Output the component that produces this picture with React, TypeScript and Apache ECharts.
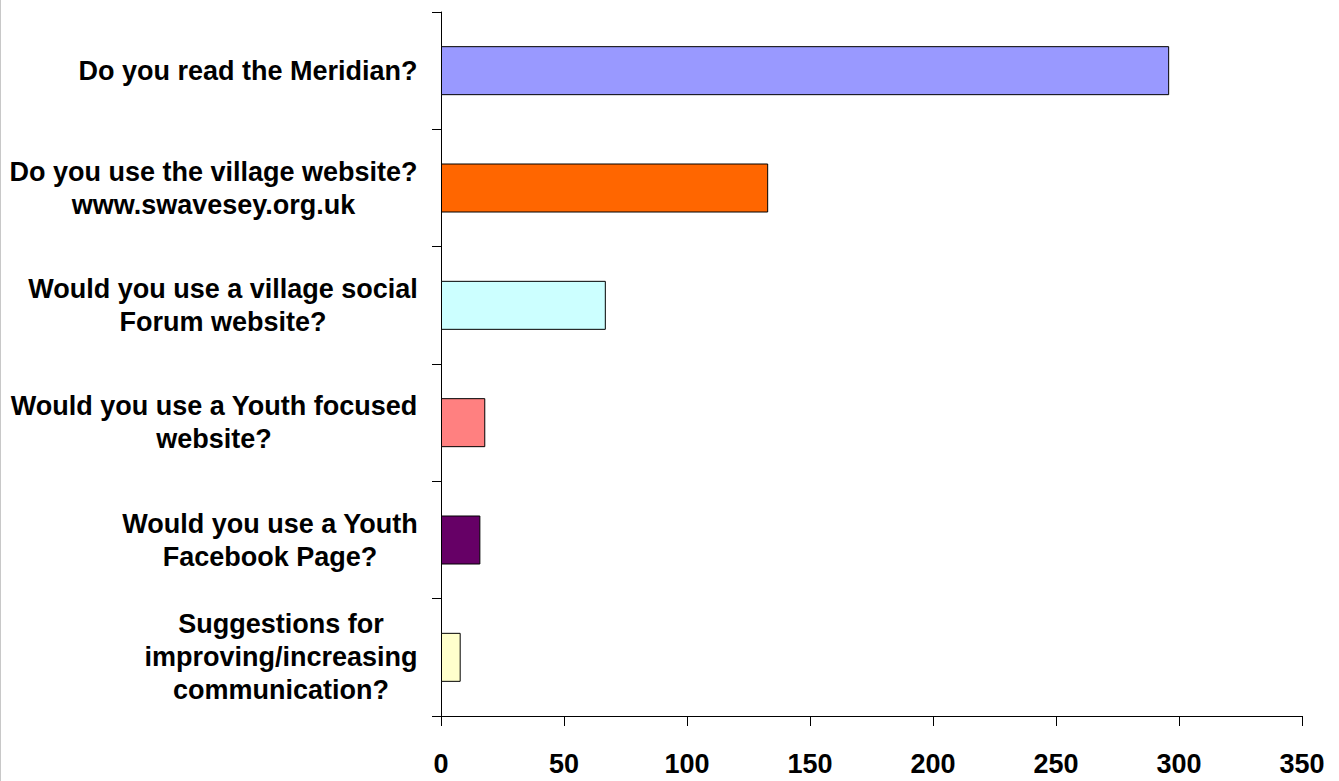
import React, { useEffect, useRef } from "react";
import * as echarts from "echarts";

const categories: string[] = [
  "Do you read the Meridian?",
  "Do you use the village website?\nwww.swavesey.org.uk",
  "Would you use a village social\nForum website?",
  "Would you use a Youth focused\nwebsite?",
  "Would you use a Youth\nFacebook Page?",
  "Suggestions for\nimproving/increasing\ncommunication?",
];
const values: number[] = [296, 133, 67, 18, 16, 8];
const barColors: string[] = ["#9999FF", "#FF6600", "#CCFFFF", "#FF8080", "#660066", "#FFFFCC"];
const xTicks = { min: 0, max: 350, interval: 50 };

const FONT = "'Liberation Sans', Arial, sans-serif";
const FS = 27;

export default function App() {
  const ref = useRef<HTMLDivElement>(null);
  useEffect(() => {
    if (!ref.current) return;
    const canvas = document.createElement("canvas");
    const ctx = canvas.getContext("2d")!;
    ctx.font = `bold ${FS}px "Liberation Sans", Arial, sans-serif`;
    const rich: Record<string, any> = {};
    categories.forEach((c, i) => {
      const w = Math.max(...c.split("\n").map((l) => ctx.measureText(l).width));
      rich["c" + i] = {
        width: Math.ceil(w),
        align: "center",
        fontSize: FS,
        fontWeight: "bold",
        fontFamily: FONT,
        color: "#000",
        lineHeight: 33,
      };
    });
    const chart = echarts.init(ref.current, null, { renderer: "svg" });
    chart.setOption({
      animation: false,
      backgroundColor: "#fff",
      grid: { left: 441, right: 37, top: 12, bottom: 65, containLabel: false },
      graphic: [
        {
          type: "line",
          shape: { x1: 0.5, y1: 0, x2: 0.5, y2: 781 },
          style: { stroke: "#c8c8c8", lineWidth: 1 },
        },
      ],
      xAxis: {
        type: "value",
        min: xTicks.min,
        max: xTicks.max,
        interval: xTicks.interval,
        axisLine: { show: true, lineStyle: { color: "#000", width: 1 } },
        axisTick: { show: true, length: 10, lineStyle: { color: "#000" } },
        splitLine: { show: false },
        axisLabel: {
          margin: 34,
          fontSize: FS,
          fontWeight: "bold",
          fontFamily: FONT,
          color: "#000",
        },
      },
      yAxis: {
        type: "category",
        inverse: true,
        data: categories,
        axisLine: { show: true, lineStyle: { color: "#000", width: 1 } },
        axisTick: { show: true, length: 9, lineStyle: { color: "#000" } },
        splitLine: { show: false },
        axisLabel: {
          margin: 23,
          align: "right",
          formatter: (v: string, i: number) =>
            v
              .split("\n")
              .map((l) => `{c${i}|${l}}`)
              .join("\n"),
          rich,
        },
      },
      series: [
        {
          type: "bar",
          barWidth: 49,
          data: values.map((v, i) => ({
            value: v,
            itemStyle: { color: barColors[i], borderColor: "#000", borderWidth: 1 },
          })),
        },
      ],
    });
    return () => chart.dispose();
  }, []);
  return (
    <div
      ref={ref}
      style={{ position: "fixed", left: 0, top: 0, width: 1339, height: 781 }}
    />
  );
}
